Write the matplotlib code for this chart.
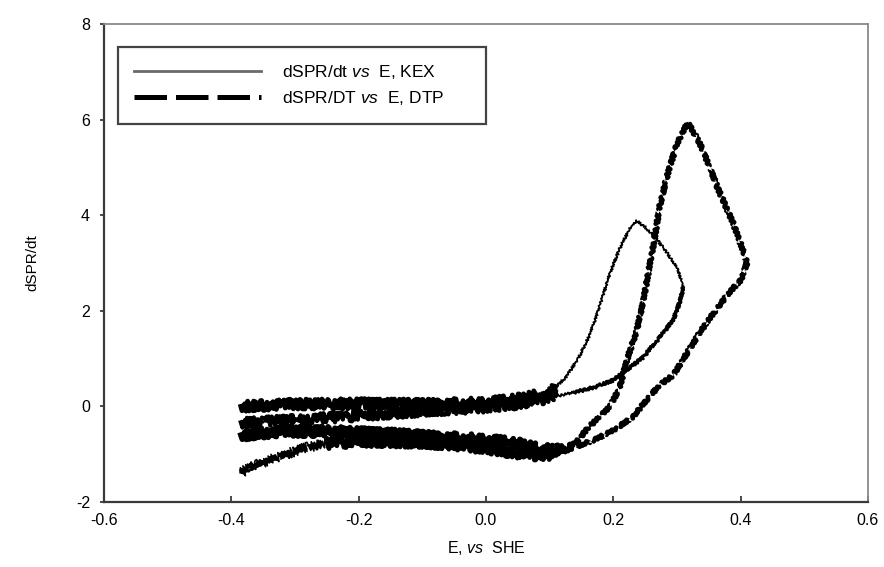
import numpy as np
import matplotlib
matplotlib.use("Agg")
import matplotlib.pyplot as plt
from matplotlib.lines import Line2D

plt.rcParams['font.family'] = ['Liberation Sans', 'DejaVu Sans']
plt.rcParams['mathtext.fontset'] = 'custom'
plt.rcParams['mathtext.rm'] = 'Liberation Sans'
plt.rcParams['mathtext.it'] = 'Liberation Sans:italic'
plt.rcParams['axes.unicode_minus'] = False

# KEX loop: forward sweep then return, (E vs SHE, dSPR/dt)
kexE = [-0.385, -0.35, -0.30, -0.25, -0.20, -0.15, -0.10, -0.05, 0.00, 0.03, 0.06, 0.09, 0.11,
        0.125, 0.145, 0.163, 0.180, 0.195, 0.210, 0.225, 0.237, 0.250, 0.268, 0.285, 0.300, 0.310,
        0.305, 0.294, 0.270, 0.247, 0.220, 0.200, 0.170, 0.140, 0.10, 0.05, 0.00, -0.05, -0.10,
        -0.15, -0.20, -0.25, -0.30, -0.35, -0.385]
kexS = [0.00, 0.02, 0.05, 0.05, 0.06, 0.05, 0.05, 0.06, 0.08, 0.12, 0.18, 0.28, 0.42,
        0.60, 1.00, 1.50, 2.15, 2.80, 3.30, 3.70, 3.88, 3.75, 3.50, 3.20, 2.90, 2.50,
        2.20, 1.80, 1.40, 1.03, 0.75, 0.55, 0.40, 0.30, 0.18, 0.05, -0.02, -0.06, -0.10,
        -0.15, -0.20, -0.24, -0.28, -0.32, -0.35]

# DTP loop
dtpE = [-0.385, -0.35, -0.30, -0.25, -0.20, -0.15, -0.10, -0.05, 0.00, 0.05, 0.09, 0.12,
        0.145, 0.160, 0.180, 0.195, 0.210, 0.222, 0.237, 0.247, 0.262, 0.273, 0.285, 0.300,
        0.317, 0.336, 0.350, 0.363, 0.376, 0.388, 0.400, 0.410,
        0.400, 0.383, 0.360, 0.336, 0.315, 0.294, 0.273, 0.250, 0.231, 0.200, 0.170, 0.140,
        0.110, 0.080, 0.050, 0.000, -0.05, -0.10, -0.15, -0.20, -0.25, -0.28, -0.31, -0.34,
        -0.36, -0.385]
dtpS = [-0.60, -0.55, -0.52, -0.52, -0.55, -0.58, -0.62, -0.66, -0.70, -0.78, -0.90, -0.92,
        -0.70, -0.45, -0.20, 0.00, 0.40, 1.00, 1.60, 2.20, 3.30, 4.20, 4.85, 5.50,
        5.95, 5.50, 5.05, 4.60, 4.20, 3.84, 3.40, 3.00,
        2.64, 2.40, 2.00, 1.55, 1.10, 0.65, 0.45, 0.10, -0.22, -0.50, -0.70, -0.85,
        -1.00, -1.02, -0.98, -0.88, -0.80, -0.76, -0.74, -0.74, -0.78, -0.85, -0.98, -1.12,
        -1.22, -1.38]

xTicks = [-0.6, -0.4, -0.2, 0.0, 0.2, 0.4, 0.6]
yTicks = [-2, 0, 2, 4, 6, 8]

kexE, kexS = np.array(kexE), np.array(kexS)
dtpE, dtpS = np.array(dtpE), np.array(dtpS)


def noisy(line, scale, length, randomness):
    # rough, jittery look of the recorded trace
    line.set_sketch_params(scale, length, randomness)
    return line


fig = plt.figure(figsize=(8.84, 5.67), dpi=100)
ax = fig.add_axes([0.1176, 0.1146, 0.8643, 0.8431])

# main traces
noisy(ax.plot(kexE, kexS, color='black', lw=1.3)[0], 1.2, 3, 2)
noisy(ax.plot(kexE[25:34], kexS[25:34], color='black', lw=2.0)[0], 1.5, 3, 2)
noisy(ax.plot(dtpE, dtpS, color='black', lw=3.2, dashes=(5, 1.2))[0], 1.5, 4, 2)

# noisy flat region appears as a thick band
kexFlat = kexE < 0.12
noisy(ax.plot(kexE[kexFlat][:12], kexS[kexFlat][:12], color='black', lw=3.5)[0], 5, 2, 3)
noisy(ax.plot(kexE[kexFlat][12:], kexS[kexFlat][12:], color='black', lw=3.0)[0], 5, 2, 3)
dtpFlat = dtpE < 0.13
noisy(ax.plot(dtpE[dtpFlat][:12], dtpS[dtpFlat][:12], color='black', lw=4.0)[0], 5, 2, 3)
noisy(ax.plot(dtpE[dtpFlat][12:-5], dtpS[dtpFlat][12:-5], color='black', lw=3.5)[0], 5, 2, 3)
# the far left tail of the return is finer hatching
noisy(ax.plot(dtpE[-6:], dtpS[-6:], color='black', lw=1.2)[0], 5, 1.5, 3)

ax.set_xlim(-0.6, 0.6)
ax.set_ylim(-2, 8)
ax.set_xticks(xTicks)
ax.set_xticklabels(['%.1f' % v for v in xTicks])
ax.set_yticks(yTicks)

for side in ['left', 'bottom']:
    ax.spines[side].set_color('#3a3a3a')
    ax.spines[side].set_linewidth(1.6)
for side in ['top', 'right']:
    ax.spines[side].set_color('#8a8a8a')
    ax.spines[side].set_linewidth(1.3)

ax.tick_params(axis='x', direction='in', length=4, width=1.3, color='#3a3a3a', pad=8, labelsize=11.5)
ax.tick_params(axis='y', direction='out', length=3, width=1.3, color='#3a3a3a', pad=7, labelsize=11.5)

ax.set_xlabel('E, $\\mathit{vs}$  SHE', fontsize=11.5, labelpad=8)
ax.set_ylabel('dSPR/dt', fontsize=11, labelpad=26)

handles = [Line2D([], [], color='#6a6a6a', lw=2.0),
           Line2D([], [], color='black', lw=3.6, dashes=(6.5, 1.8))]
leg = ax.legend(handles, ['dSPR/dt $\\mathit{vs}$  E, KEX      ', 'dSPR/DT $\\mathit{vs}$  E, DTP      '],
                loc='upper left', bbox_to_anchor=(0.018, 0.952), borderaxespad=0,
                handlelength=7.3, handletextpad=1.2, fontsize=12.5, labelspacing=0.44,
                fancybox=False, framealpha=1, borderpad=0.95)
leg.get_frame().set_edgecolor('#444444')
leg.get_frame().set_linewidth(1.6)

fig.savefig('out.png', dpi=100)
